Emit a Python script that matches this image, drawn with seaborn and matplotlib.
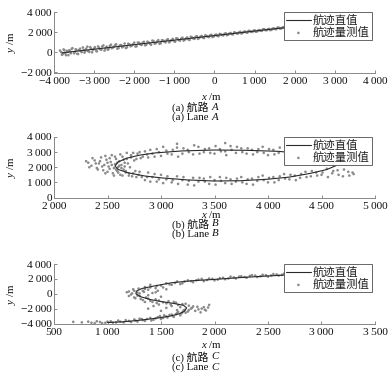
import matplotlib
matplotlib.use("Agg")
import matplotlib.pyplot as plt
import matplotlib.ticker as mticker
import seaborn as sns
import pandas as pd

# ---------------- data ----------------
# Lane A
a_true_x = [-3800, 2200]
a_true_y = [-50, 2650]
a_meas_x = [-3850, -3800, -3760, -3720, -3680, -3640, -3600, -3560, -3500, -3460, -3420, -3380,
            -3330, -3280, -3240, -3200, -3150, -3100, -3050, -3000, -2950, -2900, -2850, -2800,
            -2740, -2690, -2640, -2580, -2530, -2470, -2420, -2360, -2300, -2240, -2180, -2120,
            -2060, -2000, -1940, -1880, -1820, -1760, -1700, -1640, -1580, -1520, -1460, -1400,
            -1340, -1280, -1220, -1160, -1100, -1040, -980, -920, -860, -800, -740, -680, -620,
            -560, -500, -440, -380, -320, -260, -200, -140, -80, -20, 40, 100, 160, 220, 280,
            340, 400, 460, 520, 580, 640, 700, 760, 820, 880, 940, 1000, 1060, 1120, 1180, 1240,
            1300, 1360, 1420, 1480, 1540, 1600, 1660, 1720, 1780, 1840]
a_meas_y = [180, -250, 290, -100, 150, -280, 100, 340, -95, 300, -140, 230,
            110, 480, -30, 360, 120, 515, 5, 370, 160, 585, 300, 580,
            175, 560, 320, 760, 480, 740, 360, 680, 495, 870, 500, 805,
            675, 960, 600, 945, 730, 1040, 745, 980, 750, 1125, 915, 1210,
            900, 1175, 990, 1300, 1115, 1330, 1050, 1345, 1165, 1450, 1245, 1475, 1230,
            1480, 1335, 1600, 1430, 1625, 1415, 1630, 1505, 1745, 1580, 1770, 1595, 1790, 1680, 1885,
            1755, 1920, 1775, 1945, 1850, 2040, 1925, 2070, 1950, 2115, 2025, 2190, 2065, 2215, 2130, 2290,
            2195, 2330, 2230, 2375, 2295, 2450, 2355, 2495, 2420, 2540]
a_meas2_x = [-3820, -3780, -3740, -3700, -3660, -3620, -3580, -3540, -3480, -3440, -3400, -3350,
             -3310, -3260, -3220, -3170, -3120, -3080, -3030, -2980, -2930, -2880, -2820, -2770,
             -2720, -2660, -2610, -2560, -2500, -2450, -2390, -2330, -2270, -2210, -2150, -2090,
             -2030, -1970, -1910, -1850, -1790, -1730, -1670, -1610, -1550, -1490, -1430, -1370,
             -1310, -1250, -1190, -1130, -1070, -1010, -950, -890, -830, -770, -710, -650, -590,
             -530, -470, -410, -350, -290, -230, -170, -110, -50, 10, 70, 130, 190, 250, 310,
             370, 430, 490, 550, 610, 670, 730, 790, 850, 910, 970, 1030, 1090, 1150, 1210, 1270,
             1330, 1390, 1450, 1510, 1570, 1630, 1690, 1750, 1810, 1870]
a_meas2_y = [20, -160, 200, -285, 45, 210, -90, 415, 35, 240, -170, 360,
             20, 235, 120, 565, 45, 395, 255, 510, 90, 445, 260, 685,
             375, 265, 635, 410, 585, 795, 425, 730, 590, 425, 850, 600,
             805, 575, 980, 800, 955, 700, 1060, 865, 1160, 860, 1075, 845,
             1200, 1060, 1235, 990, 1220, 1115, 1400, 1200, 1365, 1165, 1380, 1280, 1545,
             1390, 1540, 1335, 1555, 1460, 1685, 1545, 1680, 1520, 1705, 1630, 1830, 1715, 1835, 1700,
             1855, 1805, 1980, 1880, 1975, 1870, 2030, 1985, 2135, 2030, 2125, 2045, 2180, 2140, 2295, 2200,
             2290, 2205, 2355, 2310, 2455, 2355, 2450, 2380, 2505, 2460]

# Lane B
b_true_x = [4650, 4400, 4100, 3800, 3500, 3200, 2950, 2800, 2680, 2600, 2570, 2600, 2700, 2850,
            3000, 3250, 3500, 3750, 4000, 4200, 4400, 4550, 4650]
b_true_y = [2400, 2850, 3050, 3120, 3140, 3080, 2950, 2800, 2600, 2350, 2080, 1850, 1620, 1420,
            1300, 1160, 1090, 1110, 1210, 1350, 1600, 1850, 2150]
b_meas_x = [2320, 2350, 2380, 2400, 2420, 2440, 2460, 2470, 2490, 2500, 2510, 2530, 2540, 2550,
            2560, 2570, 2580, 2590, 2600, 2610, 2620, 2630, 2640, 2650, 2660, 2670, 2680, 2700,
            2710, 2720, 2740, 2750, 2770, 2780, 2800, 2810,
            2850, 2880, 2920, 2960, 3000, 3050, 3100, 3150, 3200, 3250, 3300, 3350, 3400, 3450,
            3500, 3550, 3600, 3650, 3700, 3750, 3800, 3850, 3900, 3950, 4000, 4050, 4100,
            3150, 3600,
            2850, 2880, 2920, 2960, 3000, 3050, 3100, 3150, 3200, 3250, 3300, 3350, 3400, 3450,
            3500, 3550, 3600, 3650, 3700, 3750, 3800, 3850, 3900, 3950, 4000, 4050, 4100, 4150,
            4200, 4250, 4300, 4350, 4400, 4450, 4500, 4550, 4600, 4650, 4700, 4750, 4800]
b_meas_y = [2300, 2100, 2450, 1950, 2250, 2650, 1800, 2150, 2500, 1700, 2050, 2350, 2800, 1600,
            1950, 2200, 2550, 1750, 2000, 2400, 1500, 2150, 2700, 1850, 2300, 1650, 2550, 1450,
            2000, 2800, 1600, 2450, 1350, 2900, 1700, 2600,
            3050, 2650, 2900, 3200, 2750, 3100, 2850, 3300, 2900, 3150, 2850, 3350, 3000, 3250,
            2900, 3200, 3050, 3400, 2950, 3250, 2900, 3150, 3000, 3350, 2800, 3150, 2950,
            3550, 3600,
            1150, 1650, 1350, 1050, 1500, 1200, 1000, 1400, 1150, 850, 1300, 1050, 1250, 900,
            1150, 1350, 950, 1200, 1050, 1350, 900, 1250, 1100, 1450, 1000, 1350, 1150, 1550,
            1200, 1450, 1300, 1700, 1400, 1650, 1500, 1900, 1600, 1800, 1400, 1700, 1550]
b_meas2_x = [2300, 2330, 2360, 2390, 2410, 2430, 2450, 2480, 2480, 2500, 2520, 2520, 2540, 2560,
             2570, 2580, 2590, 2600, 2610, 2620, 2630, 2640, 2650, 2660, 2670, 2680, 2690, 2700,
             2720, 2730, 2740, 2760, 2770, 2790, 2800, 2820, 2830,
             2870, 2900, 2940, 2980, 3020, 3060, 3110, 3160, 3210, 3260, 3310, 3360, 3410, 3460,
             3510, 3560, 3610, 3660, 3710, 3760, 3810, 3860, 3910, 3960, 4010, 4060, 4110,
             2870, 2900, 2940, 2980, 3020, 3060, 3110, 3160, 3210, 3260, 3310, 3360, 3410, 3460,
             3510, 3560, 3610, 3660, 3710, 3760, 3810, 3860, 3910, 3960, 4010, 4060, 4110, 4160,
             4210, 4260, 4310, 4360, 4410, 4460, 4510, 4560, 4610, 4660, 4710, 4760, 4790]
b_meas2_y = [2400, 2000, 2600, 2250, 1850, 2400, 2050, 2750, 1600, 2300, 1900, 2600, 2150, 1450,
             2700, 1850, 2300, 1650, 2100, 2850, 1950, 1450, 2500, 2050, 1750, 2950, 2250, 1600,
             2650, 1400, 2950, 1750, 2550, 1500, 3000, 1350, 2700,
             2850, 3150, 2700, 3000, 3350, 2900, 3150, 2700, 3250, 3000, 3450, 2900, 3200, 2950,
             3400, 3050, 2800, 3150, 3350, 3000, 3250, 2850, 3200, 2950, 3200, 2850, 3300,
             1350, 1050, 1550, 1200, 950, 1400, 1150, 900, 1350, 1100, 800, 1300, 1050, 1350,
             850, 1100, 1300, 900, 1250, 1000, 1200, 850, 1350, 1150, 1300, 1000, 1400, 1250,
             1500, 1150, 1550, 1350, 1750, 1450, 1650, 1350, 1750, 1500, 1850, 1450, 1650]

# Lane C
c_true_x = [1000, 1150, 1300, 1450, 1580, 1670, 1720, 1740, 1710, 1610, 1500, 1400, 1310, 1265,
            1270, 1320, 1420, 1600, 1800, 2000, 2250, 2500, 2750, 3000]
c_true_y = [-3870, -3770, -3560, -3300, -3020, -2700, -2350, -1900, -1550, -1280, -1050, -780,
            -400, 0, 350, 700, 1000, 1480, 1760, 1930, 2180, 2390, 2580, 2760]
c_meas_x = [680, 850, 900, 950, 1000, 1050, 1100, 1150, 1200, 1250, 1280, 1320, 1350, 1400,
            1430, 1470, 1500, 1530, 1560, 1600, 1620, 1650, 1680, 1700, 1720, 1750, 1780, 1800,
            1850, 1900, 1950, 1680, 1650, 1600, 1550, 1500, 1480, 1430, 1380, 1870, 1920,
            1700, 1620, 1550, 1480, 1420, 1380, 1330, 1300, 1250, 1220, 1280, 1200, 1240, 1330,
            1380, 1450, 1500, 1550, 1350, 1400, 1450, 1500, 1550, 1600, 1650, 1700, 1750, 1800,
            1850, 1900, 1950, 2000, 2050, 2100, 2150, 2200, 2250, 2300, 2350, 2400, 2450, 2500,
            2550, 2600, 2650]
c_meas_y = [-3780, -3900, -3700, -3950, -3750, -3880, -3600, -3850, -3650, -3450, -3750, -3400,
            -3650, -3250, -3500, -3150, -3400, -2900, -3200, -2800, -3100, -2600, -2900, -2500,
            -2150, -2400, -2000, -1700, -2100, -1800, -1500, -1800, -2200, -1650, -1900, -2300,
            -1450, -1650, -2000, -2500, -2250,
            -1400, -1100, -1300, -900, -1100, -650, -850, -300, -500, -100, 150, 300, 600, 400,
            -200, 200, -400, 600, 900, 1200, 750, 1100, 1400, 1200, 1650, 1400, 1800, 1550,
            1900, 1700, 2050, 1800, 2100, 1950, 2300, 2050, 2350, 2150, 2500, 2250, 2550, 2300,
            2650, 2450, 2700]
c_meas2_x = [760, 820, 880, 930, 980, 1030, 1080, 1120, 1170, 1220, 1260, 1300, 1330, 1370,
             1410, 1450, 1490, 1520, 1550, 1580, 1610, 1640, 1660, 1690, 1710, 1730, 1760, 1790,
             1820, 1840, 1880, 1910, 1940,
             1760, 1730, 1660, 1640, 1590, 1570, 1520, 1460, 1450, 1400, 1360, 1350, 1310, 1280,
             1260, 1230, 1200, 1180, 1300, 1340, 1250, 1290, 1380, 1420, 1470, 1400, 1350, 1460,
             1520, 1580, 1630, 1680, 1720, 1780, 1830, 1880, 1930, 1980, 2030, 2080, 2130, 2180,
             2230, 2280, 2330, 2380, 2430, 2480, 2530, 2580, 2630, 2660]
c_meas2_y = [-3850, -3750, -3950, -3800, -3900, -3700, -3850, -3750, -3550, -3800, -3600, -3350,
             -3550, -3400, -3600, -3300, -3000, -3250, -3050, -2850, -3000, -2750, -2450, -2650,
             -2250, -2550, -2200, -1900, -2300, -1750, -2000, -2150, -1850,
             -1600, -1350, -1500, -1200, -1450, -1000, -1150, -1250, -750, -950, -500, -1100, -700, -250,
             -600, 50, -300, 200, 50, 250, 400, 700, 550, 100, 400, 850, 650, 1050,
             850, 1250, 1450, 1300, 1650, 1700, 1800, 2000, 1850, 2000, 1900, 2150, 2050, 2200,
             2300, 2250, 2400, 2450, 2350, 2500, 2450, 2600, 2550, 2850]

x_ticks_a = [-4000, -3000, -2000, -1000, 0, 1000, 2000, 3000, 4000]
y_ticks_a = [-2000, 0, 2000, 4000]
x_ticks_b = [2000, 2500, 3000, 3500, 4000, 4500, 5000]
y_ticks_b = [0, 1000, 2000, 3000, 4000]
x_ticks_c = [500, 1000, 1500, 2000, 2500, 3000, 3500]
y_ticks_c = [-4000, -2000, 0, 2000, 4000]

captions_cn = ["(a) 航路", "(b) 航路", "(c) 航路"]
captions_en = ["(a) Lane", "(b) Lane", "(c) Lane"]
caption_letters = ["A", "B", "C"]
legend_labels = ["航迹直值", "航迹量测值"]

# ---------------- style ----------------
sns.set_theme(style="ticks")
plt.rcParams["font.family"] = ["Liberation Serif", "Noto Sans CJK SC"]
plt.rcParams["mathtext.fontset"] = "custom"
plt.rcParams["mathtext.it"] = "Liberation Serif:italic"
plt.rcParams["mathtext.rm"] = "Liberation Serif"
plt.rcParams["axes.unicode_minus"] = True

W, H = 390, 387
FS = 8.2     # tick labels / legend
FS2 = 7.8    # axis labels / captions
fig = plt.figure(figsize=(W / 100, H / 100), dpi=100)
renderer = fig.canvas.get_renderer()

def fmt(v, pos=None):
    v = int(round(v))
    s = f"{abs(v):,}".replace(",", "\u2009")
    return ("\u2212" if v < 0 else "") + s

def caption(y_px, prefix, letter, cx=195):
    t1 = fig.text(0, 1 - y_px / H, prefix, ha="left", va="center", fontsize=FS2, color="#111111")
    t2 = fig.text(0, 1 - y_px / H, letter, ha="left", va="center", fontsize=FS2,
                  color="#111111", style="italic", family="Liberation Serif")
    w1 = t1.get_window_extent(renderer).width
    w2 = t2.get_window_extent(renderer).width
    gap = 3
    x0 = cx - (w1 + gap + w2) / 2
    t1.set_x(x0 / W)
    t2.set_x((x0 + w1 + gap) / W)

panels = [
    (a_true_x, a_true_y, a_meas_x + a_meas2_x, a_meas_y + a_meas2_y, x_ticks_a, y_ticks_a,
     12, 72.5, 96.5, 107.3, 117.6),
    (b_true_x, b_true_y, b_meas_x + b_meas2_x, b_meas_y + b_meas2_y, x_ticks_b, y_ticks_b,
     137, 197.5, 215.0, 224.0, 234.0),
    (c_true_x, c_true_y, c_meas_x + c_meas2_x, c_meas_y + c_meas2_y, x_ticks_c, y_ticks_c,
     264, 323.5, 345, 356.7, 367.0),
]

left_px, right_px = 54, 375
for i, (tx, ty, mx, my, xt, yt, top, bot, xl_px, c1_px, c2_px) in enumerate(panels):
    ax = fig.add_axes([left_px / W, 1 - bot / H, (right_px - left_px) / W, (bot - top) / H])
    meas = pd.DataFrame({"x": mx, "y": my})
    true = pd.DataFrame({"x": tx, "y": ty})
    sns.scatterplot(data=meas, x="x", y="y", ax=ax, s=3.5, color="#8a8a8a",
                    edgecolor="none", linewidth=0, label=legend_labels[1], zorder=2)
    sns.lineplot(data=true, x="x", y="y", ax=ax, sort=False, estimator=None,
                 color="#2a2a2a", linewidth=0.8, label=legend_labels[0], zorder=3)
    ax.set_xlim(xt[0], xt[-1])
    ax.set_ylim(yt[0], yt[-1])
    ax.set_xticks(xt)
    ax.set_yticks(yt)
    ax.xaxis.set_major_formatter(mticker.FuncFormatter(fmt))
    ax.yaxis.set_major_formatter(mticker.FuncFormatter(fmt))
    ax.tick_params(direction="in", length=2.5, width=0.6, labelsize=FS,
                   colors="#777777", labelcolor="#111111", pad=1.5)
    ax.tick_params(axis="x", pad=3.0)
    for side in ["top", "right"]:
        ax.spines[side].set_visible(False)
    for side in ["left", "bottom"]:
        ax.spines[side].set_color("#888888")
        ax.spines[side].set_linewidth(0.7)
    ax.set_xlabel("")
    ax.set_ylabel("")
    fig.text(212 / W, 1 - xl_px / H, "$x$ /m", ha="center", va="center",
             fontsize=FS2, color="#111111")
    fig.text(12 / W, 1 - (top + bot) / 2 / H, "$y$ /m", ha="center", va="center",
             rotation=90, fontsize=FS2, color="#111111")
    handles, labels = ax.get_legend_handles_labels()
    order = [labels.index(legend_labels[0]), labels.index(legend_labels[1])]
    leg = ax.legend([handles[k] for k in order], [labels[k] for k in order],
                    loc="upper right", bbox_to_anchor=(0.99, 1.0), frameon=True,
                    fancybox=False, edgecolor="#666666", framealpha=1,
                    fontsize=FS, handlelength=2.2, handletextpad=0.15,
                    borderpad=0.2, labelspacing=0.1, borderaxespad=0.0,
                    markerscale=1.0)
    leg.get_frame().set_linewidth(0.7)
    for t in leg.get_texts():
        t.set_color("#222222")
    caption(c1_px, captions_cn[i], caption_letters[i])
    caption(c2_px, captions_en[i], caption_letters[i])

fig.savefig("out.png", dpi=100)
